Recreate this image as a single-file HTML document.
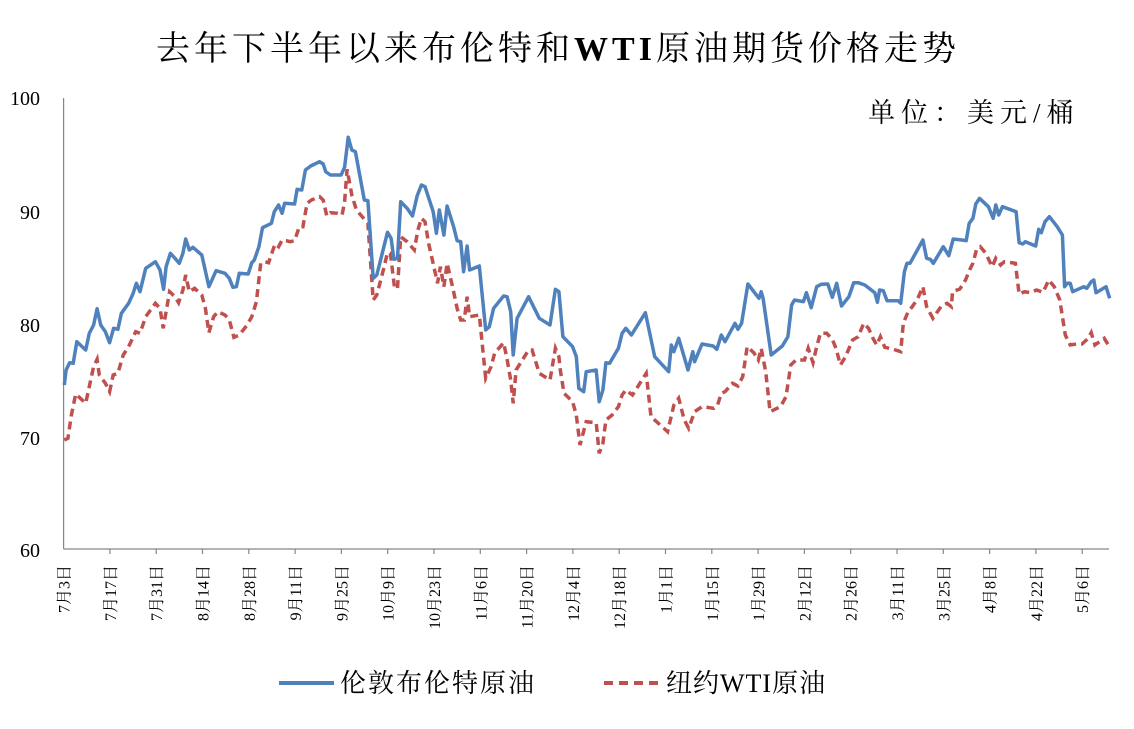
<!DOCTYPE html>
<html><head><meta charset="utf-8">
<style>
html,body{margin:0;padding:0;background:#fff;}
svg{display:block;}
text{font-family:"Liberation Serif","Noto Serif CJK SC",serif;fill:#000;}
</style></head>
<body>
<svg id="s" width="1134" height="729" viewBox="0 0 1134 729" xmlns="http://www.w3.org/2000/svg">
<rect width="1134" height="729" fill="#fff"/>
<text x="558" y="60" text-anchor="middle" font-size="34" letter-spacing="4" style="font-family:'Liberation Serif','Noto Serif CJK SC',serif">去年下半年以来布伦特和<tspan font-weight="bold">WTI</tspan>原油期货价格走势</text>
<text x="868" y="122" font-size="27" letter-spacing="6">单位：美元/桶</text>
<g font-size="20" text-anchor="end">
<text x="40" y="105">100</text>
<text x="40" y="219">90</text>
<text x="40" y="332">80</text>
<text x="40" y="445">70</text>
<text x="40" y="557">60</text>
</g>
<g stroke="#868686" stroke-width="1.2" fill="none">
<line x1="63.6" y1="98" x2="63.6" y2="549"/>
<line x1="63.6" y1="549" x2="1109" y2="549"/>
<g id="ticks"></g>
</g>
<g id="xl" font-size="16"></g>
<polyline id="red" fill="none" stroke="#C0504D" stroke-width="3.5" stroke-dasharray="8,5"/>
<polyline id="blue" fill="none" stroke="#4F81BD" stroke-width="3.5" stroke-linejoin="round"/>
<line x1="279" y1="683" x2="334" y2="683" stroke="#4F81BD" stroke-width="4"/>
<text x="340" y="692" font-size="26" letter-spacing="2">伦敦布伦特原油</text>
<line x1="604" y1="683" x2="662" y2="683" stroke="#C0504D" stroke-width="4" stroke-dasharray="9,6"/>
<text x="666" y="692" font-size="26" letter-spacing="1">纽约WTI原油</text>
</svg>
<script>
var b1=[180,885,185,840,195,818,205,820,215,755,240,780,250,730,262,705,272,656,282,705,295,725,307,758,318,715,330,718,340,670,360,640,372,612,382,580,392,605,408,535,435,515,448,540,458,598,465,530,477,490,490,505,502,520,512,490,520,447,530,480,540,472,565,495,585,590,605,542,630,550,642,565,652,592,662,590,670,550,695,552,705,518,712,510,725,470,735,413,760,400,768,365,780,345,790,370,797,340,825,342,832,298,845,300,855,240,870,228,895,215,905,222,912,245,925,255,955,255,965,232,975,142,985,180,995,185,1020,330,1030,332,1045,565,1055,555,1085,427,1095,445,1103,508,1113,505,1122,335,1140,355,1155,378,1168,318,1180,285,1190,290,1213,365,1222,430,1230,360,1243,435,1252,348,1270,410,1280,452,1290,455,1298,545,1308,468,1315,540,1342,528,1360,720,1370,710,1382,655,1410,618,1420,620,1430,665,1437,795,1448,685,1480,620,1510,685,1540,705,1555,598,1565,605];
var b2=[62,740,88,770,98,800,105,895,118,905,125,845,152,840,160,935,170,900,178,818,188,820,212,775,222,730,232,715,247,735,285,668,310,800,348,845,355,765,362,785,375,745,400,840,413,785,418,815,438,762,468,768,478,778,490,735,500,755,527,700,535,718,545,700,562,582,585,615,592,625,598,605,603,625,625,795,655,768,670,740,680,645,688,630,712,635,720,608,733,653,748,590,760,583,778,582,790,622,802,580,815,648,835,620,848,578,860,578,878,585,905,608,912,637,918,600,928,602,938,632,968,632,975,640,985,545,992,520,1000,520,1035,450,1045,505,1055,508,1063,520,1090,470,1105,497,1117,447,1140,450,1152,452,1160,400,1170,385,1178,342,1188,325,1212,350,1225,385,1232,345,1240,375,1250,350,1287,365,1295,458,1305,462,1312,455,1340,468,1348,418,1355,428,1365,395,1377,380,1398,410,1412,435,1418,590,1425,580,1433,580,1440,605,1470,590,1478,595,1490,575,1497,570,1503,608,1530,590,1540,625];
var r1=[180,1050,190,1045,200,975,212,912,225,925,240,940,252,880,262,830,272,808,278,855,295,880,307,905,317,855,330,850,345,795,360,770,380,725,392,730,408,680,435,640,448,655,457,715,468,648,475,605,490,620,500,638,512,600,520,555,530,605,545,595,565,615,575,655,585,728,598,680,610,665,630,675,642,690,655,742,670,735,692,705,705,680,718,635,730,520,742,515,752,518,770,462,780,470,790,450,802,452,812,455,825,452,838,410,848,410,860,340,872,330,895,320,905,330,915,378,925,368,945,370,958,375,965,335,972,238,985,315,998,360,1030,400,1045,630,1055,615,1072,545,1085,488,1093,490,1105,595,1113,595,1122,440,1140,455,1160,480,1170,420,1180,385,1190,395,1200,460,1218,545,1225,580,1233,530,1243,590,1252,520,1268,595,1280,655,1290,690,1300,690,1308,620,1315,680,1342,675,1360,865,1375,830,1385,790,1410,758,1420,808,1430,870,1437,940,1445,840,1480,780,1490,780,1510,850,1540,870,1555,775,1565,800];
var r2=[55,840,65,910,88,935,98,975,108,1065,125,995,152,998,160,1090,170,1060,178,990,195,975,212,950,222,915,232,900,250,915,287,850,300,980,320,1000,345,1025,362,945,375,925,390,990,402,1015,418,965,438,950,470,955,480,945,490,910,500,905,520,880,535,888,548,860,560,770,578,788,590,810,598,775,610,845,622,965,650,950,665,920,678,825,692,810,715,810,725,775,738,818,748,770,758,730,775,730,790,748,800,775,812,825,825,802,845,750,860,740,875,700,888,715,900,745,910,765,920,740,932,772,955,778,975,785,982,700,995,665,1005,652,1020,628,1035,590,1045,650,1062,685,1085,648,1100,640,1112,650,1115,605,1135,597,1150,570,1162,538,1170,520,1180,478,1190,470,1205,490,1222,530,1232,505,1245,525,1255,515,1285,520,1295,612,1310,605,1325,608,1342,600,1360,607,1375,570,1390,590,1405,630,1420,735,1433,765,1450,762,1465,762,1482,745,1490,728,1500,765,1525,745,1538,768];
function conv(a,ox,sx){var o=[];for(var i=0;i<a.length;i+=2){o.push((ox+a[i]/sx).toFixed(1)+','+(90+a[i+1]/3).toFixed(1));}return o;}
document.getElementById('blue').setAttribute('points',conv(b1,0,2.8).concat(conv(b2,540,2.703)).join(' '));
document.getElementById('red').setAttribute('points',conv(r1,0,2.8).concat(conv(r2,540,2.703)).join(' '));
var labels=['7月3日','7月17日','7月31日','8月14日','8月28日','9月11日','9月25日','10月9日','10月23日','11月6日','11月20日','12月4日','12月18日','1月1日','1月15日','1月29日','2月12日','2月26日','3月11日','3月25日','4月8日','4月22日','5月6日'];
var NS='http://www.w3.org/2000/svg',tg=document.getElementById('ticks'),xl=document.getElementById('xl');
for(var k=0;k<labels.length;k++){var x=63.6+k*46.3;
 if(k>0){var l=document.createElementNS(NS,'line');l.setAttribute('x1',x);l.setAttribute('x2',x);l.setAttribute('y1',549);l.setAttribute('y2',554);tg.appendChild(l);}
 var t=document.createElementNS(NS,'text');t.setAttribute('transform','translate('+(x+6)+',565) rotate(-90)');t.setAttribute('text-anchor','end');t.textContent=labels[k];xl.appendChild(t);}
</script>
</body></html>
